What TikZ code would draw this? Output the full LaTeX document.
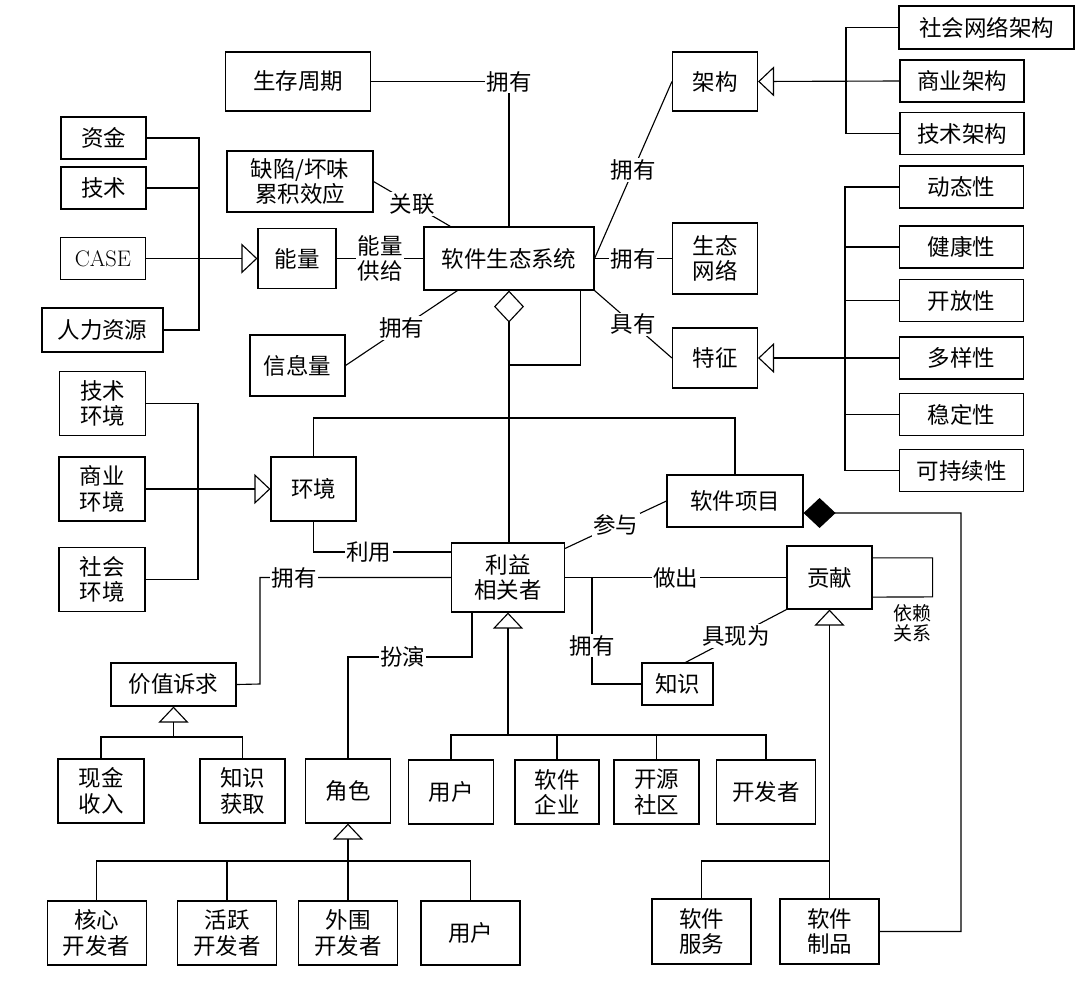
\documentclass[tikz,border=0pt]{standalone}
\usepackage{fontspec}
\newfontfamily\cjk{Noto Sans CJK SC}
\usetikzlibrary{arrows.meta}
\newcommand{\boxfont}{\cjk\fontsize{16pt}{18pt}\selectfont}

\begin{document}
\begin{tikzpicture}[
  x=0.25mm, y=-0.25mm, line width=0.8pt,
  box/.style={draw, line width=0.8pt, inner sep=0pt, align=center, font=\boxfont},
  small/.style={box, minimum width=21.25mm, minimum height=10.5mm},
  tall/.style={box, minimum width=21.25mm, minimum height=16mm},
  wide/.style={box, minimum width=24.75mm, minimum height=16mm},
  trait/.style={small, minimum width=31mm},
  lbl/.style={font=\boxfont, fill=white, inner sep=1pt, align=center},
  gen/.style={-{Triangle[open, length=4mm, width=7.5mm]}},
  agg/.style={{Diamond[open, length=8mm, width=7.5mm]}-},
  comp/.style={{Diamond[length=8mm, width=7.5mm]}-},
]
  \useasboundingbox (0,0) rectangle (1080,984);

  % centre column
  \node[box, minimum width=36.25mm, minimum height=14.75mm] (life) at (298,81.5) {生存周期};
  \node[box, minimum width=36.5mm, minimum height=15.25mm] (defect) at (300,181.5) {缺陷/坏味\\累积效应};
  \node[box, minimum width=19.5mm, minimum height=15mm] (energy) at (297,258.5) {能量};
  \node[box, minimum width=42.5mm, minimum height=15.75mm] (eco) at (509,258.5) {软件生态系统};
  \node[box, minimum width=23.75mm, minimum height=15.25mm] (info) at (297.5,365.5) {信息量};

  % energy sources
  \node[small] (fund) at (103.5,138) {资金};
  \node[small] (tech) at (103.5,188) {技术};
  \node[small, font=\rmfamily\fontsize{16pt}{18pt}\selectfont] (case) at (103,258.5) {CASE};
  \node[small, minimum width=30.25mm, minimum height=11mm] (hr) at (102.5,330) {人力资源};

  % architecture and traits
  \node[box, minimum width=21.25mm, minimum height=14.75mm] (arch) at (715,81.5) {架构};
  \node[box, minimum width=21.25mm, minimum height=17.75mm] (net) at (715,258.5) {生态\\网络};
  \node[box, minimum width=21.25mm, minimum height=15mm] (feat) at (715,358) {特征};
  \node[small, minimum width=43.75mm, minimum height=10.75mm] (sna) at (986.5,27.5) {社会网络架构};
  \node[trait] (bza) at (962,81) {商业架构};
  \node[trait] (tca) at (962,133.5) {技术架构};
  \node[trait] (dyn) at (961.5,187) {动态性};
  \node[trait] (hea) at (961.5,247) {健康性};
  \node[trait] (opn) at (961.5,300.5) {开放性};
  \node[trait] (div) at (961.5,358) {多样性};
  \node[trait] (stb) at (961.5,414.5) {稳定性};
  \node[trait] (sus) at (961.5,470.5) {可持续性};

  % environment
  \node[tall, minimum width=21.5mm] (tenv) at (102.5,403.5) {技术\\环境};
  \node[tall, minimum width=21.5mm] (benv) at (102,489) {商业\\环境};
  \node[tall, minimum width=21.5mm] (senv) at (102,579.5) {社会\\环境};
  \node[tall] (env) at (313.5,489) {环境};

  % stakeholders
  \node[box, minimum width=28.25mm, minimum height=17.25mm] (stake) at (508,577.5) {利益\\相关者};
  \node[box, minimum width=34mm, minimum height=13mm] (proj) at (735,501) {软件项目};
  \node[box, minimum width=21.25mm, minimum height=15.75mm] (contrib) at (829.5,577.5) {贡献};
  \node[small, minimum width=17.75mm] (know) at (677.5,684) {知识};
  \node[small, minimum width=31.25mm, minimum height=10.75mm] (value) at (173.5,684.5) {价值诉求};

  \node[tall, minimum width=21.5mm] (cash) at (101,791) {现金\\收入};
  \node[tall] (kacq) at (242.5,791) {知识\\获取};
  \node[tall] (role) at (348,791) {角色};
  \node[tall] (user1) at (451,792) {用户};
  \node[tall, minimum width=21mm] (firm) at (557,792) {软件\\企业};
  \node[tall] (oss) at (656.5,792) {开源\\社区};
  \node[wide] (dev) at (766,792) {开发者};

  \node[wide] (core) at (96.6,933) {核心\\开发者};
  \node[wide] (act) at (227,933) {活跃\\开发者};
  \node[wide] (peri) at (348,933) {外围\\开发者};
  \node[wide] (user2) at (470.5,933) {用户};
  \node[wide, minimum height=16.25mm] (svc) at (701.5,931.5) {软件\\服务};
  \node[wide, minimum height=16.25mm] (prod) at (829.5,931.5) {软件\\制品};

  % junctions
  \coordinate (eb) at (199,258.5);
  \coordinate (vb) at (198,489);
  \coordinate (ab) at (846,81);
  \coordinate (fb) at (845,358);
  \coordinate (j1) at (509,365);
  \coordinate (top) at (735,418);
  \coordinate (u1) at (452,552);
  \coordinate (c2) at (260,684);
  \coordinate (c3) at (348,657);
  \coordinate (sb) at (508,735);
  \coordinate (kb) at (592,577.5);
  \coordinate (cb) at (829.5,861);
  \coordinate (pc) at (961,513);
  \coordinate (vb2) at (173.5,737);
  \coordinate (rb) at (348,861);

  % links of the ecosystem
  \draw (eco.north) |- node[lbl]{拥有} (life.east);
  \draw (defect.east) -- node[lbl]{关联} ([xshift=6.75mm]eco.north west);
  \draw (energy.east) -- node[lbl]{能量\\供给} (eco.west);
  \draw ([xshift=8.5mm]eco.south west) -- node[lbl]{拥有} (info.east);
  \draw (eco.east) -- node[lbl]{拥有} (arch.west);
  \draw (eco.east) -- node[lbl]{拥有} (net.west);
  \draw (eco.south east) -- node[lbl]{具有} (feat.west);
  \draw[agg] (eco.south) -- (eco.south |- stake.north);
  \draw ([xshift=-3.5mm]eco.south east) |- (j1);

  % generalisations on the left
  \draw (fund.east) -| (eb);
  \draw (tech.east) -| (eb);
  \draw (hr.east) -| (eb);
  \draw[gen] (case.east) -- (energy.west);
  \draw (tenv.east) -| (vb);
  \draw (senv.east) -| (vb);
  \draw[gen] (benv.east) -- (env.west);

  % generalisations on the right
  \draw (sna.west) -| (ab);
  \draw (tca.west) -| (ab);
  \draw[gen] (bza.west) -- (arch.east);
  \foreach \t in {dyn, hea, opn, stb, sus}
    \draw (\t.west) -| (fb);
  \draw[gen] (div.west) -- (feat.east);

  % environment and project
  \draw (env.north) |- (top) -- (proj.north);
  \draw (env.south) |- node[lbl, pos=0.7]{利用} (u1);
  \draw (stake.west) -| node[lbl, pos=0.41]{拥有} (c2) -- (value.east);
  \draw ([xshift=-9mm]stake.south) |- node[lbl, pos=0.78]{扮演} (c3) -- (role.north);
  \draw ([yshift=-1.5mm]stake.north east) -- node[lbl]{参与} (proj.west);
  \draw (stake.east) -- node[lbl]{做出} (contrib.west);
  \draw (kb) |- node[lbl, pos=0.32]{拥有} (know.west);
  \draw (contrib.south west) -- node[lbl]{具现为} ([xshift=2mm]know.north);
  \draw ([yshift=4.9mm]contrib.east) -- ++(60,0) -- ++(0,39) -- ([yshift=-4.9mm]contrib.east);
  \node[font=\cjk\fontsize{13.5pt}{14.5pt}\selectfont, align=center] (dep) at (912,623) {依赖\\关系};
  \draw[comp] ([yshift=-3mm]proj.east) -- (pc) |- (prod.east);

  % stakeholder kinds
  \foreach \t in {user1, firm, oss, dev}
    \draw (\t.north) |- (sb);
  \draw[gen] (sb) -- (stake.south);

  % value, role and contribution kinds
  \draw (cash.north) |- (vb2);
  \draw (kacq.north) |- (vb2);
  \draw[gen] (vb2) -- (value.south);
  \foreach \t in {core, act, user2}
    \draw (\t.north) |- (rb);
  \draw[gen] (peri.north) -- (role.south);
  \draw (svc.north) |- (cb);
  \draw[gen] (prod.north) -- (contrib.south);
\end{tikzpicture}
\end{document}
